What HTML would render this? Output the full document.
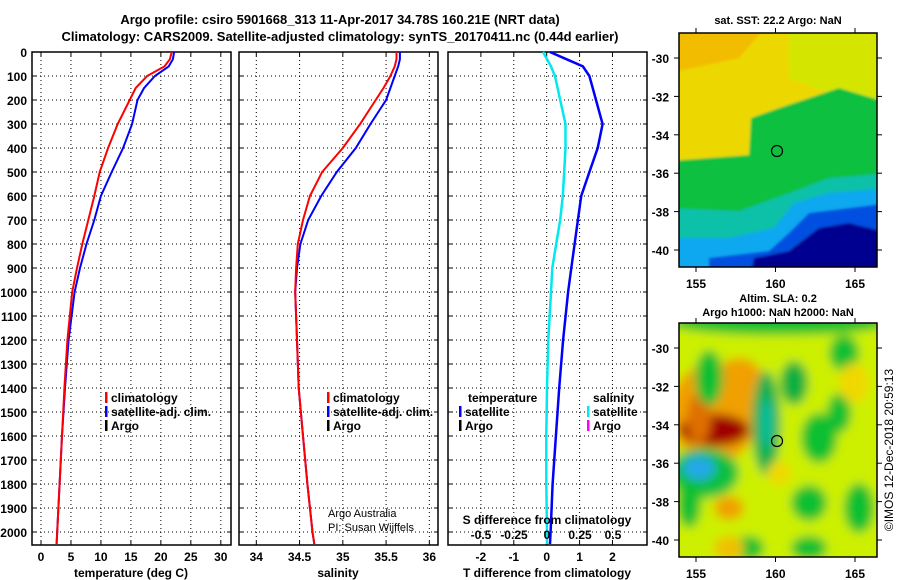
<!DOCTYPE html>
<html><head><meta charset="utf-8"><style>
body{margin:0;background:#fff}
svg{display:block;font-family:"Liberation Sans",Arial,sans-serif;font-weight:bold}
</style></head><body>
<svg id="c" width="900" height="580" viewBox="0 0 900 580">
<defs>
<filter id="b1"><feGaussianBlur stdDeviation="1.2"/></filter>
<filter id="b2"><feGaussianBlur stdDeviation="5"/></filter>
<clipPath id="cm1"><rect x="679" y="33" width="198" height="234"/></clipPath>
<clipPath id="cm2"><rect x="679" y="323" width="198" height="234"/></clipPath>
</defs>
</svg>
<script>
const depths=[0,30,60,100,150,200,300,400,500,600,700,800,900,1000,1200,1400,1600,1800,2000,2050];
const tempClim=[21.8,21.5,20.6,17.7,15.8,14.8,12.8,11.2,9.8,8.9,7.9,6.9,6.0,5.2,4.4,3.9,3.5,3.1,2.7,2.6];
const tempSat=[22.2,22.0,21.3,19.0,17.2,16.1,15.2,13.7,11.8,10.0,8.9,7.6,6.5,5.6,4.6,4.0,3.5,3.1,2.7,2.6];
const salClim=[35.62,35.62,35.6,35.55,35.47,35.38,35.2,35.0,34.76,34.62,34.54,34.48,34.46,34.45,34.47,34.49,34.54,34.59,34.65,34.67];
const salSat=[35.66,35.66,35.64,35.6,35.55,35.5,35.32,35.15,34.93,34.75,34.6,34.51,34.47,34.45,34.47,34.49,34.54,34.59,34.65,34.67];
const dT=[0.1,0.6,1.1,1.3,1.4,1.5,1.7,1.55,1.3,1.05,0.95,0.85,0.75,0.65,0.5,0.38,0.28,0.18,0.12,0.1];
const dS=[-0.03,0.0,0.03,0.06,0.08,0.1,0.14,0.14,0.13,0.12,0.1,0.07,0.04,0.03,0.01,0.0,-0.005,-0.005,0.0,0.0];
const depthTicks=[0,100,200,300,400,500,600,700,800,900,1000,1100,1200,1300,1400,1500,1600,1700,1800,1900,2000];
const tTicks=[0,5,10,15,20,25,30];
const sTicks=[34,34.5,35,35.5,36];
const dTTicks=[-2,-1,0,1,2];
const dSTicks=[-0.5,-0.25,0,0.25,0.5];
const dSLabels=["-0.5","-0.25","0","0.25","0.5"];

const svg=document.getElementById('c');
const NS='http://www.w3.org/2000/svg';
function mk(t,a,p){const e=document.createElementNS(NS,t);for(const k in a)e.setAttribute(k,a[k]);(p||svg).appendChild(e);return e;}
function txt(x,y,s,size,anchor,extra){const e=mk('text',Object.assign({x:x,y:y,'font-size':size||12,'text-anchor':anchor||'start'},extra||{}));e.textContent=s;return e;}
const Y0=52, PY=0.24, FB=545;
const yD=d=>Y0+d*PY;
const P=[
 {x0:32,x1:231,lo:-1.5,hi:31.7,name:'temperature-panel'},
 {x0:239,x1:438,lo:33.8,hi:36.1,name:'salinity-panel'},
 {x0:448,x1:647,lo:-3,hi:3.05,name:'difference-panel'}];
const xs=(p,v)=>p.x0+(v-p.lo)/(p.hi-p.lo)*(p.x1-p.x0);
const xS=v=>547+v*132;

P.forEach((p,i)=>{
 const g=mk('g',{});
 
 
 depthTicks.forEach(d=>{
  mk('line',{x1:p.x0,x2:p.x1,y1:yD(d),y2:yD(d),stroke:'#000','stroke-dasharray':'1,3','stroke-width':1},g);
  mk('line',{x1:p.x0,x2:p.x0+4,y1:yD(d),y2:yD(d),stroke:'#000'},g);
  mk('line',{x1:p.x1-4,x2:p.x1,y1:yD(d),y2:yD(d),stroke:'#000'},g);
  if(i==0){const t=txt(27,yD(d)+5,String(d),12,'end');}
 });
 const ticks=i==0?tTicks:i==1?sTicks:dTTicks;
 ticks.forEach(v=>{const x=xs(p,v);
  mk('line',{x1:x,x2:x,y1:Y0,y2:FB,stroke:'#000','stroke-dasharray':'1,3'},g);
  mk('line',{x1:x,x2:x,y1:FB-4,y2:FB,stroke:'#000'},g);
  mk('line',{x1:x,x2:x,y1:Y0,y2:Y0+4,stroke:'#000'},g);
  const t=txt(x,561,String(v),12,'middle');});
 mk('rect',{x:p.x0,y:Y0,width:p.x1-p.x0,height:FB-Y0,fill:'none',stroke:'#000','stroke-width':1.5},g);
});
function line(pts,color,w,name){const e=mk('polyline',{points:pts.map(q=>q[0].toFixed(1)+','+q[1].toFixed(1)).join(' '),fill:'none',stroke:color,'stroke-width':w});
 }
line(depths.map((d,k)=>[xs(P[0],tempSat[k]),yD(d)]),'#0000ff',2,'temp-satellite-line');
line(depths.map((d,k)=>[xs(P[0],tempClim[k]),yD(d)]),'#ff0000',2,'temp-climatology-line');
line(depths.map((d,k)=>[xs(P[1],salSat[k]),yD(d)]),'#0000ff',2,'sal-satellite-line');
line(depths.map((d,k)=>[xs(P[1],salClim[k]),yD(d)]),'#ff0000',2,'sal-climatology-line');
line(depths.map((d,k)=>[xs(P[2],dT[k]),yD(d)]),'#0000ff',2.5,'temp-diff-line');
line(depths.map((d,k)=>[xS(dS[k]),yD(d)]),'#00e8f0',2.5,'sal-diff-line');

let t;
t=txt(131,577,'temperature (deg C)',12,'middle');
t=txt(338,577,'salinity',12,'middle');
t=txt(547,577,'T difference from climatology',12,'middle');
t=txt(547,524,'S difference from climatology',12,'middle');
dSTicks.forEach((v,k)=>{const e=txt(xS(v),539,dSLabels[k],12,'middle');});
t=txt(340,24,'Argo profile: csiro 5901668_313 11-Apr-2017 34.78S 160.21E (NRT data)',13,'middle');
t=txt(340,41,'Climatology: CARS2009. Satellite-adjusted climatology: synTS_20170411.nc (0.44d earlier)',13,'middle');
function leg(x,y,color,label,name){const g=mk('g',{});
 if(color)mk('rect',{x:x,y:y-10,width:2.5,height:11,fill:color},g);
 const e=txt(x+(color?6:0),y,label,12,'start');g.appendChild(e);}
leg(105,402,'#ff0000','climatology','legend-climatology');
leg(105,416,'#0000ff','satellite-adj. clim.','legend-satellite');
leg(105,430,'#000','Argo','legend-argo');
leg(327,402,'#ff0000','climatology','legend-sal-climatology');
leg(327,416,'#0000ff','satellite-adj. clim.','legend-sal-satellite');
leg(327,430,'#000','Argo','legend-sal-argo');
leg(468,402,null,'temperature','legend-temp-header');
leg(459,416,'#0000ff','satellite','legend-tdiff-satellite');
leg(459,430,'#000','Argo','legend-tdiff-argo');
leg(593,402,null,'salinity','legend-sal-header');
leg(587,416,'#00e8f0','satellite','legend-sdiff-satellite');
leg(587,430,'#ff00ff','Argo','legend-sdiff-argo');
t=txt(328,517,'Argo Australia',11,'start',{'font-weight':'normal'});
t=txt(328,531,'PI: Susan Wijffels',11,'start',{'font-weight':'normal'});

const lonTicks=[155,160,165], latTicks=[-30,-32,-34,-36,-38,-40];
function mapFrame(y0,name){
 const g=mk('g',{});
 return g;}
function axes(y0,g){
 const lx=v=>696+(v-155)*15.9;
 latTicks.forEach(v=>{const y=y0+25+(-30-v)*19.2;
  mk('line',{x1:877,x2:882,y1:y,y2:y,stroke:'#000'},g);mk('line',{x1:674,x2:679,y1:y,y2:y,stroke:'#000'},g);
  const e=txt(669,y+5,String(v),12,'end');});
 lonTicks.forEach(v=>{const x=lx(v);mk('line',{x1:x,x2:x,y1:y0+234,y2:y0+239,stroke:'#000'},g);mk('line',{x1:x,x2:x,y1:y0-5,y2:y0,stroke:'#000'},g);
  const e=txt(x,y0+255,String(v),12,'middle');});
 mk('rect',{x:679,y:y0,width:198,height:234,fill:'none',stroke:'#000','stroke-width':1.5},g);
 mk('circle',{cx:777,cy:y0+118,r:5.5,fill:'none',stroke:'#000','stroke-width':1.2},g);
}
const g1=mapFrame(33,'sst-map');
const m1=mk('g',{'clip-path':'url(#cm1)'},g1);
const m1b=mk('g',{filter:'url(#b1)',transform:'translate(679,33)'},m1);
const poly=(pts,c,p)=>mk('polygon',{points:pts,fill:c},p);
mk('rect',{x:-10,y:-10,width:220,height:260,fill:'#ecd800'},m1b);
poly('-10,-10 90,-10 60,25 -10,40','#f2bc00',m1b);
poly('110,-10 210,-10 210,80 150,60 110,45','#d4e600',m1b);
poly('-10,128 70,122 72,85 100,75 130,65 160,55 210,70 210,250 -10,250','#10c040',m1b);
poly('-10,175 60,178 110,160 150,145 210,140 210,250 -10,250','#10c0a8',m1b);
poly('-10,205 50,205 95,195 115,170 150,160 210,155 210,250 -10,250','#10a8f0',m1b);
poly('30,225 90,218 110,200 130,180 210,170 210,250 30,250','#0050e0',m1b);
poly('70,250 75,225 110,218 140,195 170,190 210,200 210,250','#000090',m1b);
axes(33,g1);
t=txt(778,24,'sat. SST: 22.2 Argo: NaN',11,'middle');

const g2=mapFrame(323,'sla-map');
const m2=mk('g',{'clip-path':'url(#cm2)'},g2);
const m2b=mk('g',{filter:'url(#b2)',transform:'translate(679,323)'},m2);
mk('rect',{x:-20,y:-20,width:240,height:280,fill:'#cdf000'},m2b);
const el=(cx,cy,rx,ry,c)=>mk('ellipse',{cx:cx,cy:cy,rx:rx,ry:ry,fill:c},m2b);
el(100,0,110,12,'#10c030');
el(35,90,45,50,'#f0a000');el(60,60,25,25,'#f0a000');
el(35,107,35,16,'#a00000');el(20,95,12,25,'#e07000');
el(30,55,14,28,'#10c030');
el(25,150,35,25,'#10c040');el(20,145,16,12,'#20a8e8');
el(87,100,14,52,'#10b050');el(88,100,6,25,'#10c0a0');
el(115,60,14,22,'#10b040');el(140,115,18,25,'#10c030');
el(165,30,15,18,'#10c030');el(160,90,12,20,'#10c030');
el(130,180,18,18,'#10c030');el(180,185,15,25,'#10c030');
el(70,225,15,12,'#10c030');el(130,225,18,12,'#10c030');
el(10,180,12,25,'#10c030');
el(50,185,15,12,'#f0a000');el(50,225,15,12,'#f0c000');el(100,150,12,12,'#f0d800');
el(175,60,15,20,'#f0d800');
axes(323,g2);
t=txt(778,302,'Altim. SLA: 0.2',11,'middle');
t=txt(778,316,'Argo h1000: NaN h2000: NaN',11,'middle');
t=txt(0,0,'©IMOS 12-Dec-2018 20:59:13',12,'middle',{'font-weight':'normal',transform:'translate(893,450) rotate(-90)'});

</script>
</body></html>
